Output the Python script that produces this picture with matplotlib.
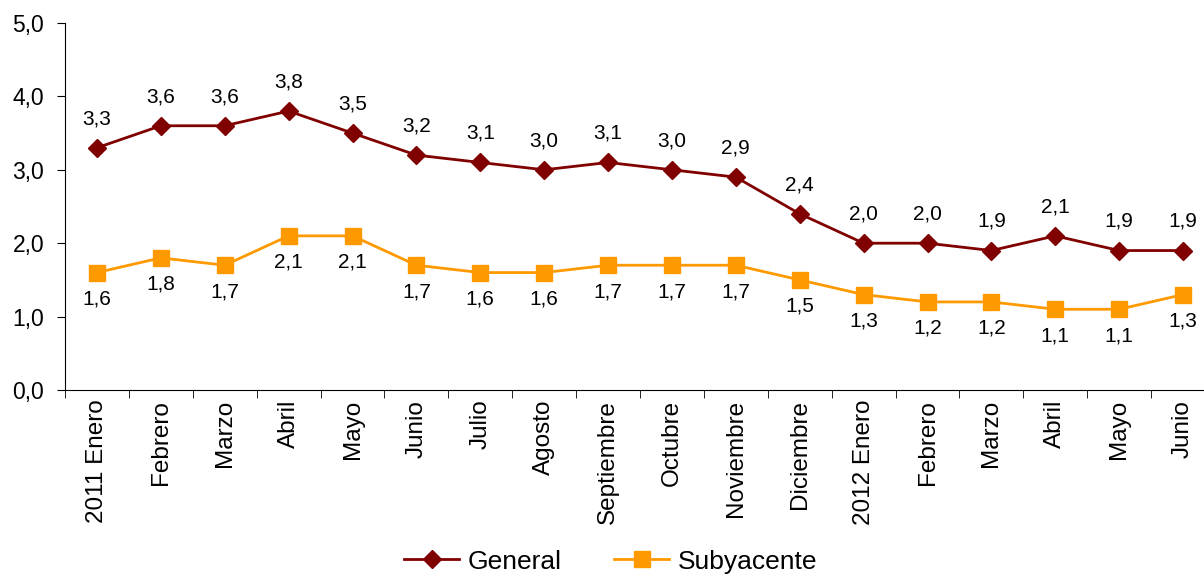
import matplotlib
matplotlib.use("Agg")
import matplotlib.pyplot as plt
import numpy as np

# datos
meses = ['2011 Enero', 'Febrero', 'Marzo', 'Abril', 'Mayo', 'Junio', 'Julio',
         'Agosto', 'Septiembre', 'Octubre', 'Noviembre', 'Diciembre',
         '2012 Enero', 'Febrero', 'Marzo', 'Abril', 'Mayo', 'Junio']
general = [3.3, 3.6, 3.6, 3.8, 3.5, 3.2, 3.1, 3.0, 3.1, 3.0, 2.9, 2.4,
           2.0, 2.0, 1.9, 2.1, 1.9, 1.9]
subyacente = [1.6, 1.8, 1.7, 2.1, 2.1, 1.7, 1.6, 1.6, 1.7, 1.7, 1.7, 1.5,
              1.3, 1.2, 1.2, 1.1, 1.1, 1.3]

plt.rcParams['font.family'] = ['Liberation Sans', 'DejaVu Sans']

fig = plt.figure(figsize=(12.04, 5.8), dpi=100)
# el eje se extiende un poco fuera de la figura, como en el original
ax = fig.add_axes([65/1204, 190/580, 1150/1204, 367/580])

x = np.arange(len(meses))
ax.plot(x, general, color='#800000', lw=2, marker='D', ms=9,
        label='General', clip_on=False)
ax.plot(x, subyacente, color='#FF9900', lw=2, marker='s', ms=11,
        label='Subyacente', clip_on=False)

def fmt(v):
    return '{:.1f}'.format(v).replace('.', ',')

for xi, v in zip(x, general):
    ax.annotate(fmt(v), xy=(xi, v), xytext=(0, 21), textcoords='offset points',
                ha='center', va='center', fontsize=15)
for xi, v in zip(x, subyacente):
    ax.annotate(fmt(v), xy=(xi, v), xytext=(0, -19), textcoords='offset points',
                ha='center', va='center', fontsize=15)

ax.set_xlim(-0.5, len(meses) - 0.5)
ax.set_ylim(0, 5)
ax.set_yticks(np.arange(0, 5.1, 1))
ax.set_yticklabels([fmt(v) for v in np.arange(0, 5.1, 1)], fontsize=16.5)

ax.set_xticks(x)
ax.set_xticklabels(meses, rotation=90, fontsize=17.5)
ax.tick_params(axis='x', length=0, pad=7)
ax.set_xticks(np.arange(-0.5, len(meses)), minor=True)
ax.tick_params(axis='x', which='minor', length=6, direction='out')
ax.tick_params(axis='y', length=6, direction='out', pad=9)

ax.spines['top'].set_visible(False)
ax.spines['right'].set_visible(False)

fig.legend(loc='lower center', bbox_to_anchor=(0.507, -0.03), ncol=2,
           frameon=False, fontsize=19, handlelength=2.1, handletextpad=0.3,
           columnspacing=2.0)

plt.savefig('out.png', dpi=100)
